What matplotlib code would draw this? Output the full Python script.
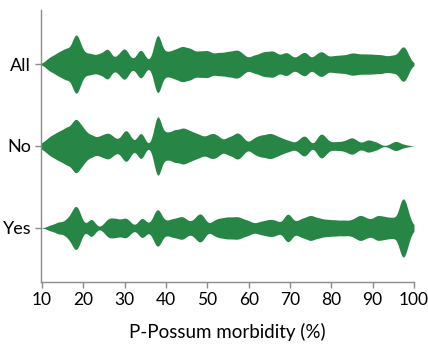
import numpy as np
import matplotlib
matplotlib.use("Agg")
import matplotlib.pyplot as plt

plt.rcParams['font.family'] = ['Lato', 'DejaVu Sans']

categories = ["All", "No", "Yes"]
x_ticks = [10, 20, 30, 40, 50, 60, 70, 80, 90, 100]

# P-Possum morbidity score (%) and number of patients at each score
scores = list(range(10, 101))
counts_all = [0, 4, 10, 8, 16, 12, 24, 6, 49, 27, 10, 12, 13, 7, 15, 8, 29, 0, 10, 11, 25, 9, 1, 10, 25, 5, 0, 9,
              60, 6, 16, 12, 18, 15, 24, 14, 22, 9, 18, 11, 19, 10, 12, 14, 11, 16, 12, 18, 14, 10, 4, 12, 9, 13,
              15, 12, 18, 9, 9, 16, 11, 4, 10, 12, 18, 0, 12, 12, 18, 5, 10, 9, 10, 10, 10, 14, 11, 11, 11, 11,
              11, 10, 11, 9, 8, 12, 6, 24, 22, 3, 0]
counts_no = [4, 5, 12, 10, 17, 13, 24, 12, 38, 19, 22, 8, 15, 5, 12, 10, 16, 10, 6, 5, 21, 16, 1, 4, 25, 0, 0, 3,
             60, 2, 19, 9, 21, 12, 22, 15, 16, 12, 13, 8, 10, 14, 12, 10, 2, 13, 6, 17, 12, 7, 0, 10, 8, 13, 9,
             15, 11, 10, 8, 6, 6, 2, 5, 11, 13, 0, 0, 15, 14, 5, 3, 5, 4, 5, 6, 11, 6, 2, 4, 9, 3, 6, 0, 0, 1, 5,
             6, 1, 2, 0, 0]
counts_yes = [0, 0, 7, 2, 14, 3, 17, 13, 43, 29, 0, 4, 24, 0, 0, 5, 18, 12, 16, 8, 18, 13, 2, 1, 23, 10, 0, 16,
              42, 11, 8, 13, 14, 13, 21, 10, 7, 13, 24, 22, 0, 9, 13, 14, 14, 17, 14, 17, 16, 10, 13, 5, 7, 11, 9,
              14, 11, 12, 0, 26, 23, 3, 12, 15, 13, 23, 12, 17, 10, 14, 10, 13, 9, 13, 9, 12, 14, 22, 14, 14, 9,
              23, 14, 19, 11, 21, 0, 60, 44, 7, 3]

green = "#278646"
axis_grey = "#8c8c8c"
bw = 0.9  # kde bandwidth in score units

fig = plt.figure(figsize=(4.28, 3.44), dpi=100)
ax = fig.add_axes([41 / 428, 62 / 344, 373 / 428, 272 / 344])

grid = np.linspace(9.75, 100, 2000)
sc = np.array(scores)
for counts, y in zip([counts_all, counts_no, counts_yes], [2, 1, 0]):
    c = np.array(counts)
    dens = (c[None, :] * np.exp(-(grid[:, None] - sc[None, :]) ** 2 / (2 * bw ** 2))).sum(1)
    half = dens / dens.max() * 0.355
    ax.fill_between(grid, y - half, y + half, color=green, lw=0)

ax.set_xlim(9.75, 100)
ax.set_ylim(-0.66, 2.66)
ax.set_yticks([2, 1, 0])
ax.set_yticklabels(categories, fontsize=13)
ax.set_xticks(x_ticks)
ax.set_xlabel("P-Possum morbidity (%)", fontsize=13.5, labelpad=11)

for s in ["top", "right"]:
    ax.spines[s].set_visible(False)
for s in ["left", "bottom"]:
    ax.spines[s].set_color(axis_grey)
    ax.spines[s].set_linewidth(1.0)
ax.tick_params(axis="both", colors=axis_grey, labelcolor="black", length=4, width=1, pad=3)
ax.tick_params(axis="x", labelsize=12.5)

fig.savefig("out.png", dpi=100)
